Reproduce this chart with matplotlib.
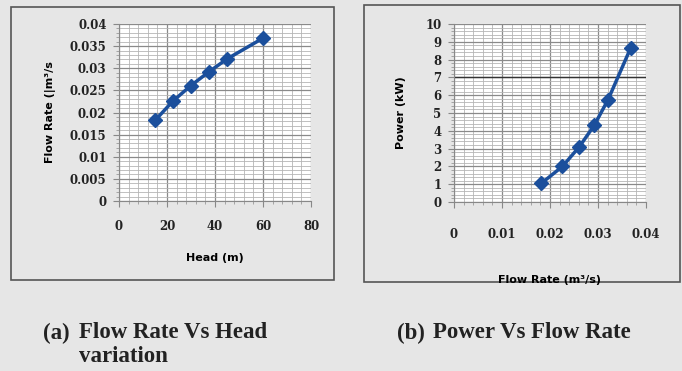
import matplotlib
matplotlib.use("Agg")
import matplotlib.pyplot as plt
from matplotlib.patches import Rectangle
from matplotlib.ticker import MultipleLocator

head = [15, 22.5, 30, 37.5, 45, 60]
flow = [0.0182, 0.0226, 0.0261, 0.0292, 0.0321, 0.0368]
power = [1.05, 2.0, 3.1, 4.3, 5.75, 8.65]

left_xticks = [0, 20, 40, 60, 80]
left_xlabels = ["0", "20", "40", "60", "80"]
left_yticks = [0, 0.005, 0.01, 0.015, 0.02, 0.025, 0.03, 0.035, 0.04]
left_ylabels = ["0", "0.005", "0.01", "0.015", "0.02", "0.025", "0.03", "0.035", "0.04"]
right_xticks = [0, 0.01, 0.02, 0.03, 0.04]
right_xlabels = ["0", "0.01", "0.02", "0.03", "0.04"]
right_yticks = [0, 1, 2, 3, 4, 5, 6, 7, 8, 9, 10]
right_ylabels = ["0", "1", "2", "3", "4", "5", "6", "7", "8", "9", "10"]

BG = "#e6e6e6"
LINE = "#1b4f9c"

fig = plt.figure(figsize=(6.82, 3.71), dpi=100, facecolor=BG)
W, H = 682, 371

def fbox(x0, y0, x1, y1):
    fig.patches.append(Rectangle((x0 / W, 1 - y1 / H), (x1 - x0) / W, (y1 - y0) / H,
                                 transform=fig.transFigure, facecolor=BG,
                                 edgecolor="#555555", linewidth=1.2, zorder=-5))

fbox(11, 7, 334, 280)
fbox(364, 5, 680, 282)

def ax_at(x0, y0, x1, y1):
    ax = fig.add_axes([x0 / W, 1 - y1 / H, (x1 - x0) / W, (y1 - y0) / H])
    ax.set_zorder(5)
    return ax

labfont = dict(family="DejaVu Sans", weight="bold", size=8)

def style(ax, xmin, ymin, xt, xl, yt, yl):
    ax.set_facecolor("white")
    ax.xaxis.set_minor_locator(MultipleLocator(xmin))
    ax.yaxis.set_minor_locator(MultipleLocator(ymin))
    ax.set_xticks(xt)
    ax.set_xticklabels(xl)
    ax.set_yticks(yt)
    ax.set_yticklabels(yl)
    ax.grid(which="major", color="#8a8a8a", linewidth=0.9)
    ax.grid(which="minor", color="#b5b5b5", linewidth=0.6)
    ax.set_axisbelow(True)
    for s in ["top", "right"]:
        ax.spines[s].set_visible(False)
    for s in ["left", "bottom"]:
        ax.spines[s].set_color("#888888")
    ax.tick_params(which="major", length=4, color="#888888")
    ax.tick_params(which="minor", length=2.5, color="#999999")
    for lab in ax.get_xticklabels() + ax.get_yticklabels():
        lab.set_fontfamily("DejaVu Serif")
        lab.set_fontweight("bold")
        lab.set_fontsize(8.5)
        lab.set_color("#222222")

# Left chart
ax1 = ax_at(119, 24, 311, 201)
ax1.plot(head, flow, color=LINE, linewidth=2.5, marker="D", markersize=7, zorder=3)
ax1.set_xlim(0, 80)
ax1.set_ylim(0, 0.04)
style(ax1, 4, 0.001, left_xticks, left_xlabels, left_yticks, left_ylabels)
ax1.tick_params(axis="y", which="major", pad=5)
ax1.tick_params(axis="x", which="major", pad=10)
ax1.set_xlabel("Head (m)", fontdict=labfont, labelpad=14)
ax1.set_ylabel("Flow Rate (|m³/s", fontdict=labfont, labelpad=10)

# Right chart
ax2 = ax_at(454, 24, 646, 202)
ax2.plot(flow, power, color=LINE, linewidth=2.5, marker="D", markersize=7, zorder=3)
ax2.set_xlim(0, 0.04)
ax2.set_ylim(0, 10)
style(ax2, 0.002, 0.2, right_xticks, right_xlabels, right_yticks, right_ylabels)
ax2.tick_params(axis="y", which="major", pad=5)
ax2.tick_params(axis="x", which="major", pad=15)
ax2.axhline(7, color="#333333", linewidth=1.0, zorder=1)
ax2.set_xlabel("Flow Rate (m³/s)", fontdict=labfont, labelpad=24)
ax2.set_ylabel("Power (kW)", fontdict=labfont, labelpad=14)

capfont = dict(family="Liberation Serif", weight="bold", size=16.5, color="#222222")
fig.text(43 / W, 1 - 333 / H, "(a)", va="center", ha="left", **capfont)
fig.text(79 / W, 1 - 333 / H, "Flow Rate Vs Head", va="center", ha="left", **capfont)
fig.text(79 / W, 1 - 356 / H, "variation", va="center", ha="left", **capfont)
fig.text(397 / W, 1 - 333 / H, "(b)", va="center", ha="left", **capfont)
fig.text(433 / W, 1 - 333 / H, "Power Vs Flow Rate", va="center", ha="left", **capfont)

fig.savefig("out.png", dpi=100, facecolor=BG)
